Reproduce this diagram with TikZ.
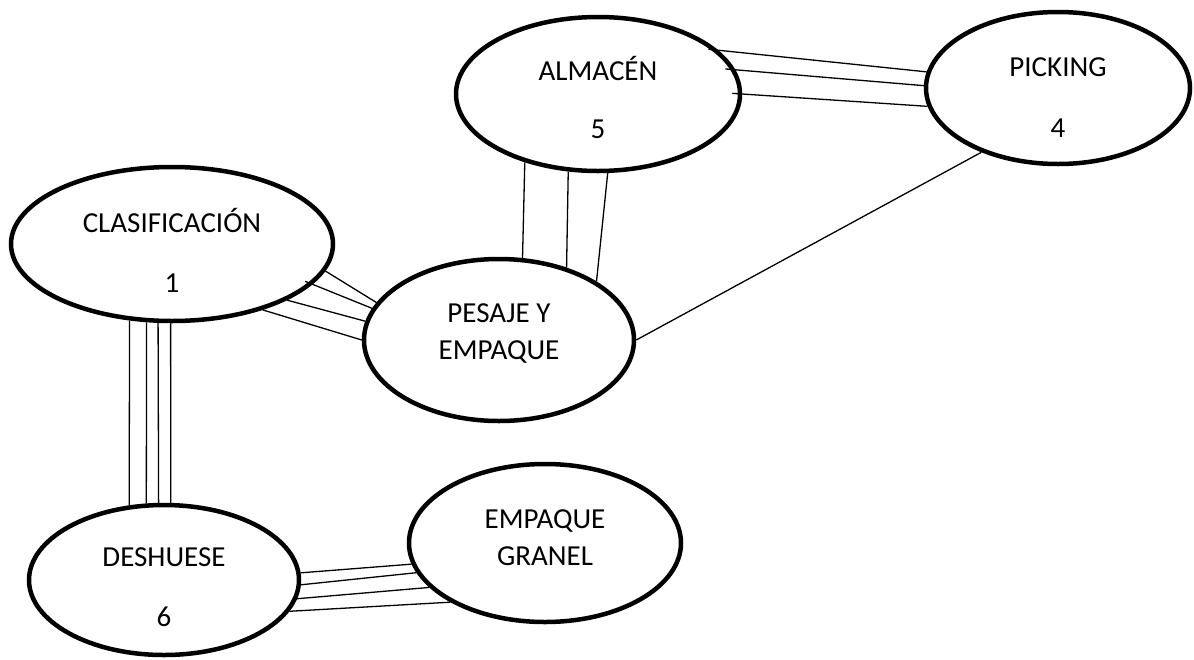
\documentclass[tikz,border=0pt]{standalone}
\usepackage{fontspec}
\setmainfont{Carlito}
\usetikzlibrary{shapes.geometric}
\begin{document}
\begin{tikzpicture}[x=1pt,y=-1pt,
		area/.style = {draw, ellipse, line width=4.5pt, inner sep=0pt, align=center, font=\fontsize{29}{37}\selectfont},
		link/.style = {line width=1.3pt}
			]
		\useasboundingbox (0,0) rectangle (1194,659);

		\node [area, minimum width=322pt, minimum height=154pt] (Clasif) at (172,244) {\rule{0pt}{36pt}CLASIFICACIÓN\\[23pt]1};
		\node [area, minimum width=284pt, minimum height=154pt] (Almacen) at (598,94) {\rule{0pt}{32pt}ALMACÉN\\[21pt]5};
		\node [area, minimum width=264pt, minimum height=152pt] (Picking) at (1058,88) {\rule{0pt}{37pt}PICKING\\[24pt]4};
		\node [area, minimum width=270pt, minimum height=162pt] (Pesaje) at (499,340) {PESAJE Y\\EMPAQUE\rule[-16pt]{0pt}{16pt}};
		\node [area, minimum width=270pt, minimum height=150pt] (Deshuese) at (164,580) {\rule{0pt}{33pt}DESHUESE\\[23pt]6};
		\node [area, minimum width=272pt, minimum height=158pt] (Granel) at (545,543) {EMPAQUE\\GRANEL\rule[-10pt]{0pt}{10pt}};

		\draw [link] (Clasif.-10.9) -- (Pesaje.163.5);
		\draw [link, shorten <=-8pt] (Clasif.-16.3) -- (Pesaje.166.4);
		\draw [link] (Clasif.-26.2) -- (Pesaje.172.8);
		\draw [link] (Clasif.-36.2) -- (Pesaje.180);

		\draw [link, shorten <=-10pt] (Almacen.20.3) -- (Picking.173.9);
		\draw [link, shorten <=-10pt] (Almacen.10.5) -- (Picking.179.6);
		\draw [link, shorten <=-10pt] (Almacen.0.4) -- (Picking.-172.7);

		\draw [link] (Almacen.-137.4) -- (Pesaje.74.5);
		\draw [link] (Almacen.-111.4) -- (Pesaje.47);
		\draw [link] (Almacen.-83.7) -- (Pesaje.31.9);

		\draw [link] (Pesaje.0.8) -- (Picking.-140.5);

		\draw [link] (Clasif.-119.4) -- (Deshuese.115.6);
		\draw [link] (Clasif.-108.2) -- (Deshuese.103.3);
		\draw [link] (Clasif.-100) -- (Deshuese.94.5);
		\draw [link] (Clasif.-91.4) -- (Deshuese.85.5);

		\draw [link] (Deshuese.3.3) -- (Granel.-171.3);
		\draw [link] (Deshuese.-2.5) -- (Granel.-167.3);
		\draw [link] (Deshuese.-8.2) -- (Granel.-159.6);
		\draw [link] (Deshuese.-14.5) -- (Granel.-148.2);

	\end{tikzpicture}
\end{document}
